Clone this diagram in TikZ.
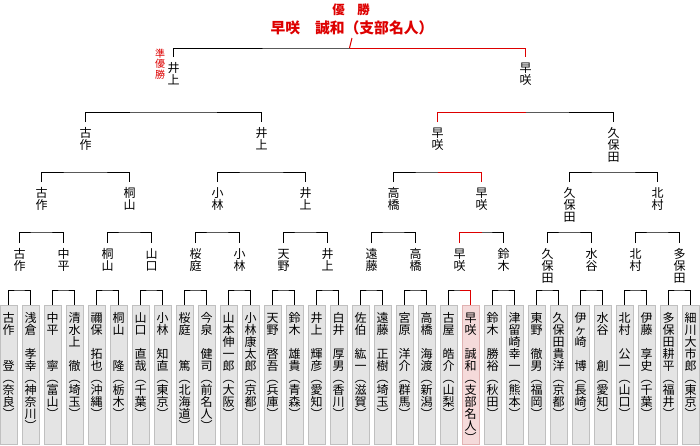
\documentclass[tikz,border=0pt]{standalone}
\usepackage{fontspec}
\setmainfont{Noto Sans CJK JP}
\definecolor{winred}{RGB}{221,0,0}
\definecolor{boxfill}{RGB}{228,228,228}
\definecolor{boxline}{RGB}{192,192,192}
\definecolor{winfill}{RGB}{245,218,218}
\definecolor{winline}{RGB}{224,178,178}
% vertical text, one character per line
\makeatletter
\newcommand\tate[2][12pt]{\edef\tate@s{#2}\vtop{\baselineskip=#1\lineskiplimit=-\maxdimen\expandafter\tate@i\tate@s\@nil}}
\def\tate@i#1{\ifx#1\@nil\else\hbox{#1}\expandafter\tate@i\fi}
\makeatother

\begin{document}
\begin{tikzpicture}[x=1pt,y=-1pt,line width=1pt,
  pbox/.style={draw=boxline,fill=boxfill,anchor=north,minimum width=17pt,inner sep=0pt,
    text height=17pt,text depth=122pt,font=\fontsize{12}{12}\selectfont},
  gbox/.style={pbox},
  wbox/.style={pbox,draw=winline,fill=winfill},
  lbl/.style={anchor=north,inner sep=0pt,text height=15pt,font=\fontsize{12}{12}\selectfont},
  win/.style={draw=winred}]
\useasboundingbox (0,0) rectangle (700,445);
% title
\node[winred,font=\bfseries\fontsize{12.5}{13}\selectfont,anchor=base,inner sep=0pt] (yusho) at (351,14.5) {優　勝};
\node[winred,font=\bfseries\fontsize{14.8}{15}\selectfont,anchor=base,inner ysep=2.5pt,inner xsep=0pt] (champ) at (352,33.5) {早咲　誠和（支部名人）};
\node[winred,anchor=north,inner sep=0pt,text height=9.5pt,font=\fontsize{10}{10}\selectfont] (jun) at (160,47) {\tate[10.8pt]{準優勝}};
% players
\foreach \nm/\pf/\st [count=\i from 0] in {
  古作　　登/奈良/gbox, 浅倉　孝幸/神奈川/gbox, 中平　　寧/富山/gbox, 清水上　徹/埼玉/gbox,
  禰保　拓也/沖縄/gbox, 桐山　　隆/栃木/gbox, 山口　直哉/千葉/gbox, 小林　知直/東京/gbox,
  桜庭　　篤/北海道/gbox, 今泉　健司/前名人/gbox, 山本伸一郎/大阪/gbox, 小林康太郎/京都/gbox,
  天野　啓吾/兵庫/gbox, 鈴木　雄貴/青森/gbox, 井上　輝彦/愛知/gbox, 白井　厚男/香川/gbox,
  佐伯　紘一/滋賀/gbox, 遠藤　正樹/埼玉/gbox, 宮原　洋介/群馬/gbox, 高橋　海渡/新潟/gbox,
  古屋　皓介/山梨/gbox, 早咲　誠和/支部名人/wbox, 鈴木　勝裕/秋田/gbox, 津留崎幸一/熊本/gbox,
  東野　徹男/福岡/gbox, 久保田貴洋/京都/gbox, 伊ヶ崎　博/長崎/gbox, 水谷　　創/愛知/gbox,
  北村　公一/山口/gbox, 伊藤　享史/千葉/gbox, 多保田耕平/福井/gbox, 細川大市郎/東京/gbox}
  \node[\st] (p\i) at ({22*\i+8.5},305) {\tate{\nm︵\pf︶}};
% round 1
\foreach \j in {0,...,15} {
  \pgfmathtruncatemacro\a{2*\j}
  \pgfmathtruncatemacro\b{2*\j+1}
  \coordinate (m1-\j) at ({44*\j+19.5},290);
  \draw (p\a.north) |- (m1-\j) -| (p\b.north);
}
\foreach \n [count=\j from 0] in {古作,中平,桐山,山口,桜庭,小林,天野,井上,遠藤,高橋,早咲,鈴木,久保田,水谷,北村,多保田}
  \node[lbl] (w1-\j) at ({44*\j+19.5},243) {\tate{\n}};
% round 2
\foreach \j in {0,...,7} {
  \pgfmathtruncatemacro\a{2*\j}
  \pgfmathtruncatemacro\b{2*\j+1}
  \coordinate (m2-\j) at ({88*\j+41.5},232);
  \draw (w1-\a.north) |- (m2-\j) -| (w1-\b.north);
}
\foreach \n [count=\j from 0] in {古作,桐山,小林,井上,高橋,早咲,久保田,北村}
  \node[lbl] (w2-\j) at ({88*\j+41.5},182) {\tate{\n}};
% round 3
\foreach \j in {0,...,3} {
  \pgfmathtruncatemacro\a{2*\j}
  \pgfmathtruncatemacro\b{2*\j+1}
  \coordinate (m3-\j) at ({176*\j+85.5},172);
  \draw (w2-\a.north) |- (m3-\j) -| (w2-\b.north);
}
\foreach \n [count=\j from 0] in {古作,井上,早咲,久保田}
  \node[lbl] (w3-\j) at ({176*\j+85.5},122) {\tate{\n}};
% semifinals
\foreach \j in {0,1} {
  \pgfmathtruncatemacro\a{2*\j}
  \pgfmathtruncatemacro\b{2*\j+1}
  \coordinate (m4-\j) at ({352*\j+173.5},112);
  \draw (w3-\a.north) |- (m4-\j) -| (w3-\b.north);
}
\foreach \n [count=\j from 0] in {井上,早咲}
  \node[lbl] (w4-\j) at ({352*\j+173.5},57) {\tate{\n}};
% final
\coordinate (m5) at (349.5,48);
\draw (w4-0.north) |- (m5) -| (w4-1.north);
% winner's path
\draw[win] (m1-10) -| (p21.north);
\draw[win] (m2-5) -| (w1-10.north);
\draw[win] (m3-2) -| (w2-5.north);
\draw[win] (m4-1) -| (w3-2.north);
\draw[win] (m5) -| (w4-1.north);
\draw[win] (m5) -- (champ.south);
\end{tikzpicture}
\end{document}
